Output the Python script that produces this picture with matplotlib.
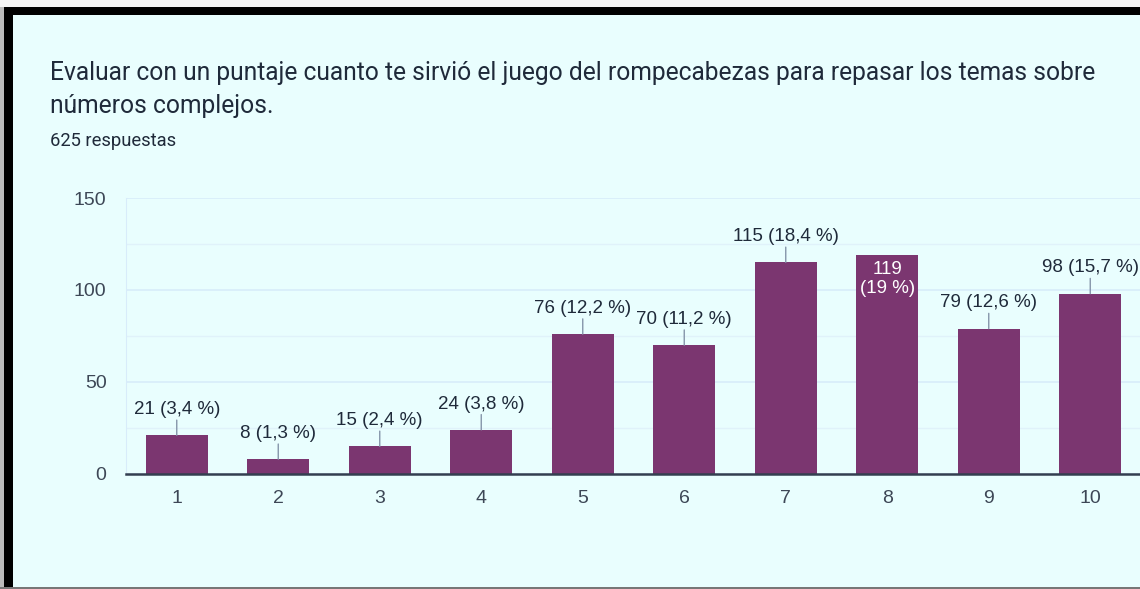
import matplotlib.pyplot as plt
from matplotlib.patches import Rectangle
from matplotlib.ticker import MultipleLocator

# datos
puntajes = ['1', '2', '3', '4', '5', '6', '7', '8', '9', '10']
respuestas = [21, 8, 15, 24, 76, 70, 115, 119, 79, 98]
porcentajes = ['3,4', '1,3', '2,4', '3,8', '12,2', '11,2', '18,4', '19', '12,6', '15,7']
total = 625

titulo = ['Evaluar con un puntaje cuanto te sirvió el juego del rompecabezas para repasar los temas sobre',
          'números complejos.']

fondo = '#E9FEFE'
morado = '#7B3670'
texto = '#1F2A3A'
gris = '#3D4756'
fuente_graf = ['Liberation Sans', 'DejaVu Sans']

plt.rcParams['font.family'] = ['Roboto', 'DejaVu Sans']

fig = plt.figure(figsize=(11.4, 5.89), dpi=100)
fig.patch.set_facecolor(fondo)

W, H = 1140, 589
# marco negro arriba e izquierda
fig.patches.append(Rectangle((0, (H - 7) / H), 1, 7 / H, transform=fig.transFigure,
                             facecolor='#F4F4F4', edgecolor='none', zorder=0))
fig.patches.append(Rectangle((0, (H - 15) / H), 1, 8 / H, transform=fig.transFigure,
                             facecolor='black', edgecolor='none', zorder=0))
fig.patches.append(Rectangle((0, 0), 4 / W, (H - 7) / H, transform=fig.transFigure,
                             facecolor='#BBBBBB', edgecolor='none', zorder=0))
fig.patches.append(Rectangle((4 / W, 0), 9 / W, (H - 7) / H, transform=fig.transFigure,
                             facecolor='black', edgecolor='none', zorder=0))
fig.patches.append(Rectangle((0, 0), 1, 2 / H, transform=fig.transFigure,
                             facecolor='#777777', edgecolor='none', zorder=0))

fig.text(50 / W, 1 - 80 / H, titulo[0], fontsize=17.7, color=texto, va='baseline', ha='left')
fig.text(50 / W, 1 - 113 / H, titulo[1], fontsize=17.7, color=texto, va='baseline', ha='left')
fig.text(50 / W, 1 - 146 / H, f'{total} respuestas', fontsize=13.2, color=texto,
         va='baseline', ha='left')

ax = fig.add_axes([126 / W, (H - 474) / H, 1015 / W, 276 / H])
ax.set_facecolor(fondo)

x = list(range(1, len(puntajes) + 1))
ax.bar(x, respuestas, width=0.615, color=morado, zorder=3)

ax.set_xlim(0.5, len(puntajes) + 0.5)
ax.set_ylim(0, 150)
ax.yaxis.set_major_locator(MultipleLocator(50))
ax.yaxis.set_minor_locator(MultipleLocator(25))
ax.grid(axis='y', which='major', color='#D8ECFA', lw=1.2, zorder=0)
ax.grid(axis='y', which='minor', color='#E0F2FA', lw=1, zorder=0)
ax.set_xticks(x)
ax.set_xticklabels(puntajes)
ax.tick_params(axis='both', which='both', length=0, labelsize=14, colors=gris)
ax.tick_params(axis='x', pad=11.5)
ax.tick_params(axis='y', pad=14)
for lab in ax.get_xticklabels() + ax.get_yticklabels():
    lab.set_family(fuente_graf)

for s in ['top', 'right']:
    ax.spines[s].set_visible(False)
ax.spines['left'].set_color('#D8ECFA')
ax.spines['bottom'].set_color('#333F50')
ax.spines['bottom'].set_linewidth(1.8)
ax.spines['bottom'].set_zorder(4)

for xi, v, p in zip(x, respuestas, porcentajes):
    if v == max(respuestas):
        # la etiqueta de la barra más alta va dentro de la barra
        ax.annotate(f'{v}\n({p} %)', xy=(xi, v), xytext=(0, -17), textcoords='offset points',
                    ha='center', va='center', fontsize=13.5, color='white', zorder=5,
                    linespacing=1.15, family=fuente_graf)
        continue
    ax.annotate('', xy=(xi, v), xytext=(0, 11), textcoords='offset points',
                arrowprops=dict(arrowstyle='-', color='#8595AA', lw=1,
                                shrinkA=0, shrinkB=0), zorder=4)
    ax.annotate(f'{v} ({p} %)', xy=(xi, v), xytext=(0, 18.5), textcoords='offset points',
                ha='center', va='center', fontsize=13.5, color=texto, zorder=5,
                family=fuente_graf)

fig.savefig('out.png', dpi=100, facecolor=fondo)
